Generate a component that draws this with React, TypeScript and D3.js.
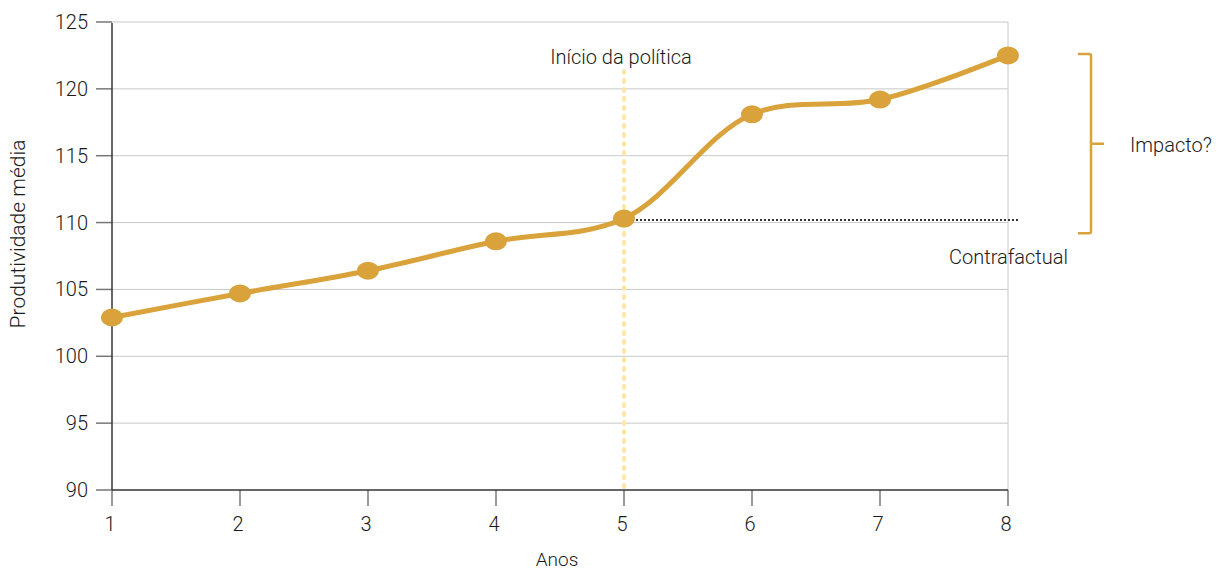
import React, { useEffect, useRef } from "react";
import * as d3 from "d3";

const years = [1, 2, 3, 4, 5, 6, 7, 8];
const productivity = [102.9, 104.7, 106.4, 108.6, 110.3, 118.1, 119.2, 122.5];
const yTicks = [90, 95, 100, 105, 110, 115, 120, 125];
const counterfactual = 110.2;
const policyYear = 5;

const W = 1218;
const H = 571;
const FONT = "'Roboto', sans-serif";
const GOLD = "#D9A23A";

export default function App() {
  const ref = useRef<SVGSVGElement>(null);

  useEffect(() => {
    const svg = d3.select(ref.current);
    svg.selectAll("*").remove();

    const x = d3.scaleLinear().domain([1, 8]).range([112, 1008]);
    const y = d3.scaleLinear().domain([90, 125]).range([490, 22]);

    const label = (sel: any, size: number) =>
      sel
        .style("font-family", FONT)
        .style("font-weight", 300)
        .style("font-size", `${size}px`)
        .style("fill", "#1a1a1a");

    // grid
    svg
      .append("g")
      .selectAll("line")
      .data(yTicks.slice(1))
      .join("line")
      .attr("x1", x(1))
      .attr("x2", x(8))
      .attr("y1", (d) => y(d))
      .attr("y2", (d) => y(d))
      .attr("stroke", "#c8c8c8")
      .attr("stroke-width", 1);
    svg
      .append("line")
      .attr("x1", x(8))
      .attr("x2", x(8))
      .attr("y1", y(125))
      .attr("y2", y(90))
      .attr("stroke", "#c8c8c8");

    // y axis
    const gy = svg.append("g");
    gy.selectAll("line.tick")
      .data(yTicks)
      .join("line")
      .attr("x1", x(1) - 16)
      .attr("x2", x(1))
      .attr("y1", (d) => y(d))
      .attr("y2", (d) => y(d))
      .attr("stroke", "#777")
      .attr("stroke-width", 1.5);
    label(
      gy.selectAll("text")
        .data(yTicks)
        .join("text")
        .attr("x", x(1) - 24)
        .attr("y", (d) => y(d) + 7)
        .attr("text-anchor", "end")
        .text((d) => d),
      20
    );
    gy.append("line")
      .attr("x1", x(1))
      .attr("x2", x(1))
      .attr("y1", y(125) + 1)
      .attr("y2", y(90))
      .attr("stroke", "#333")
      .attr("stroke-width", 1.5);

    // x axis
    const gx = svg.append("g");
    gx.selectAll("line")
      .data(years)
      .join("line")
      .attr("x1", (d) => x(d))
      .attr("x2", (d) => x(d))
      .attr("y1", y(90))
      .attr("y2", y(90) + 16)
      .attr("stroke", "#777")
      .attr("stroke-width", 1.5);
    label(
      gx.selectAll("text")
        .data(years)
        .join("text")
        .attr("x", (d) => x(d) - 2)
        .attr("y", y(90) + 41)
        .attr("text-anchor", "middle")
        .text((d) => d),
      20
    );
    gx.append("line")
      .attr("x1", x(1))
      .attr("x2", x(8))
      .attr("y1", y(90))
      .attr("y2", y(90))
      .attr("stroke", "#333")
      .attr("stroke-width", 1.5);

    // axis titles
    label(
      svg.append("text").attr("x", 557).attr("y", 566).attr("text-anchor", "middle").text("Anos"),
      19
    );
    label(
      svg
        .append("text")
        .attr("transform", `translate(25, 234) rotate(-90)`)
        .attr("text-anchor", "middle")
        .text("Produtividade média"),
      21
    );

    // policy start line
    svg
      .append("line")
      .attr("x1", x(policyYear))
      .attr("x2", x(policyYear))
      .attr("y1", 71)
      .attr("y2", y(90) - 3)
      .attr("stroke", "#FDE7A2")
      .attr("stroke-width", 4)
      .attr("stroke-linecap", "round")
      .attr("stroke-dasharray", "2 7");
    label(
      svg
        .append("text")
        .attr("x", x(policyYear) - 3)
        .attr("y", 64)
        .attr("text-anchor", "middle")
        .text("Início da política"),
      20
    );

    // series
    const data = years.map((d, i) => ({ x: d, y: productivity[i] }));
    const line = d3
      .line<{ x: number; y: number }>()
      .x((d) => x(d.x))
      .y((d) => y(d.y))
      .curve(d3.curveCatmullRom.alpha(0.5));
    svg
      .append("path")
      .datum(data)
      .attr("d", line)
      .attr("fill", "none")
      .attr("stroke", GOLD)
      .attr("stroke-width", 5);

    // counterfactual
    svg
      .append("line")
      .attr("x1", x(policyYear))
      .attr("x2", x(8) + 10)
      .attr("y1", y(counterfactual))
      .attr("y2", y(counterfactual))
      .attr("stroke", "#333")
      .attr("stroke-width", 2)
      .attr("stroke-dasharray", "2 2");

    svg
      .append("g")
      .selectAll("ellipse")
      .data(data)
      .join("ellipse")
      .attr("cx", (d) => x(d.x))
      .attr("cy", (d) => y(d.y))
      .attr("rx", 11)
      .attr("ry", 9)
      .attr("fill", GOLD);

    label(svg.append("text").attr("x", 949).attr("y", 264).text("Contrafactual"), 20);

    // impact bracket
    const bx = 1091;
    const top = y(122.6);
    const bot = y(109.2);
    svg
      .append("path")
      .attr(
        "d",
        `M${bx - 13},${top} H${bx - 2} Q${bx},${top} ${bx},${top + 2} V${bot - 2} Q${bx},${bot} ${bx - 2},${bot} H${bx - 13} M${bx},${(top + bot) / 2} H${bx + 13}`
      )
      .attr("fill", "none")
      .attr("stroke", GOLD)
      .attr("stroke-width", 2.5);
    label(svg.append("text").attr("x", 1130).attr("y", 152).text("Impacto?"), 20);
  }, []);

  return (
    <svg
      ref={ref}
      width={W}
      height={H}
      style={{ position: "absolute", left: 0, top: 0, background: "#fff" }}
    />
  );
}
